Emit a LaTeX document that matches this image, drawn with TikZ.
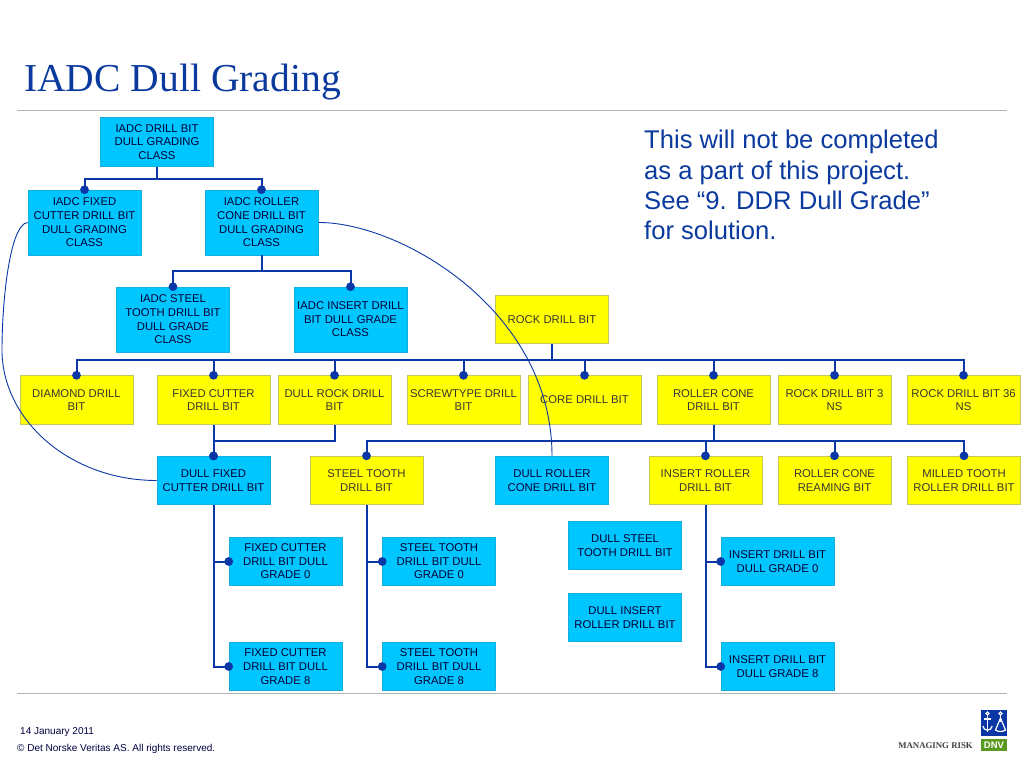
\documentclass[tikz,border=0pt]{standalone}
\usepackage{fontspec}
\setmainfont{Liberation Sans}
\newfontfamily\serifface{Liberation Serif}
\usetikzlibrary{arrows.meta}
\definecolor{boxblue}{HTML}{00C6FF}
\definecolor{boxyellow}{HTML}{FFFF00}
\definecolor{edgeblue}{HTML}{14AEE2}
\definecolor{edgeyellow}{HTML}{C6C65E}
\definecolor{linkblue}{HTML}{0A37A5}
\definecolor{headblue}{HTML}{0B3A9E}
\definecolor{rulegrey}{HTML}{B4B4B4}
\definecolor{logogreen}{HTML}{5B9A20}
\tikzset{
  card/.style={minimum width=113pt,minimum height=48.5pt,inner sep=0pt,align=center,
    font=\fontsize{11.3}{13.6}\selectfont},
  bluebox/.style={card,fill=boxblue,draw=edgeblue,line width=.6pt,text=black!80!blue},
  yellowbox/.style={card,fill=boxyellow,draw=edgeyellow,line width=.9pt,text=black!90!yellow},
  tall/.style={minimum height=65pt},
  link/.style={draw=linkblue,line width=2pt},
  tree/.style={link,-{Circle[length=8.6pt,width=8.6pt]},shorten >=-4.3pt},
  curvelink/.style={draw=linkblue,line width=.9pt},
  anchorline/.style={white,line width=1.2pt}
}
\begin{document}
\begin{tikzpicture}[x=1pt,y=-1pt]
  \useasboundingbox (0,0) rectangle (1024,768);
  \draw[rulegrey,line width=.9pt] (17,110.5) -- (1007,110.5);
  \draw[rulegrey,line width=.9pt] (17,693.5) -- (1007,693.5);
  \node[anchor=base west,inner sep=0pt,text=headblue,font=\serifface\fontsize{39.6}{44}\selectfont] (title) at (24,91) {IADC Dull Grading};
  \node[anchor=north west,inner sep=0pt,align=left,text=headblue,font=\fontsize{25.6}{30.4}\selectfont] (note) at (644,130)
    {This will not be completed\\as a part of this project.\\See “9. DDR Dull Grade”\\for solution.};
  \draw
    (157,142) node[bluebox] (classroot){IADC DRILL BIT\\DULL GRADING\\CLASS}
    (84.5,222.5) node[bluebox,tall] (classfixed){IADC FIXED\\CUTTER DRILL BIT\\DULL GRADING\\CLASS}
    (261.5,222.5) node[bluebox,tall] (classroller){IADC ROLLER\\CONE DRILL BIT\\DULL GRADING\\CLASS}
    (173,319.5) node[bluebox,tall] (classsteel){IADC STEEL\\TOOTH DRILL BIT\\DULL GRADE\\CLASS}
    (350.5,319.5) node[bluebox,tall] (classinsert){IADC INSERT DRILL\\BIT DULL GRADE\\CLASS}
    (552,319.5) node[yellowbox] (rock){ROCK DRILL BIT}
    (76.5,400) node[yellowbox] (diamond){DIAMOND DRILL\\BIT}
    (213.5,400) node[yellowbox] (fixed){FIXED CUTTER\\DRILL BIT}
    (334.5,400) node[yellowbox] (dullrock){DULL ROCK DRILL\\BIT}
    (463.5,400) node[yellowbox] (screw){SCREWTYPE DRILL\\BIT}
    (584.5,400) node[yellowbox] (core){CORE DRILL BIT}
    (713.5,400) node[yellowbox] (roller){ROLLER CONE\\DRILL BIT}
    (834.5,400) node[yellowbox] (rockthree){ROCK DRILL BIT 3\\NS}
    (963.5,400) node[yellowbox] (rockthirtysix){ROCK DRILL BIT 36\\NS}
    (213.5,480.5) node[bluebox] (dullfixed){DULL FIXED\\CUTTER DRILL BIT}
    (366.5,480.5) node[yellowbox] (steel){STEEL TOOTH\\DRILL BIT}
    (552,480.5) node[bluebox] (dullroller){DULL ROLLER\\CONE DRILL BIT}
    (705.5,480.5) node[yellowbox] (insert){INSERT ROLLER\\DRILL BIT}
    (834.5,480.5) node[yellowbox] (reaming){ROLLER CONE\\REAMING BIT}
    (964,480.5) node[yellowbox] (milled){MILLED TOOTH\\ROLLER DRILL BIT}
    (285.5,561.5) node[bluebox] (fixedzero){FIXED CUTTER\\DRILL BIT DULL\\GRADE 0}
    (285.5,666.5) node[bluebox] (fixedeight){FIXED CUTTER\\DRILL BIT DULL\\GRADE 8}
    (439,561.5) node[bluebox] (steelzero){STEEL TOOTH\\DRILL BIT DULL\\GRADE 0}
    (439,666.5) node[bluebox] (steeleight){STEEL TOOTH\\DRILL BIT DULL\\GRADE 8}
    (625,545.5) node[bluebox] (dullsteel){DULL STEEL\\TOOTH DRILL BIT}
    (625,617.5) node[bluebox] (dullinsert){DULL INSERT\\ROLLER DRILL BIT}
    (777.5,561.5) node[bluebox] (insertzero){INSERT DRILL BIT\\DULL  GRADE 0}
    (777.5,666.5) node[bluebox] (inserteight){INSERT DRILL BIT\\DULL  GRADE 8};
  \begin{scope}[tree]
    \draw (classroot.south) -- ++(0,12) -| (classfixed.north);
    \draw (classroot.south) -- ++(0,12) -| (classroller.north);
    \draw (classroller.south) -- ++(0,16) -| (classsteel.north);
    \draw (classroller.south) -- ++(0,16) -| (classinsert.north);
    \draw (rock.south) -- ++(0,16) -| (diamond.north);
    \draw (rock.south) -- ++(0,16) -| (fixed.north);
    \draw (rock.south) -- ++(0,16) -| (dullrock.north);
    \draw (rock.south) -- ++(0,16) -| (screw.north);
    \draw (rock.south) -- ++(0,16) -| (core.north);
    \draw (rock.south) -- ++(0,16) -| (roller.north);
    \draw (rock.south) -- ++(0,16) -| (rockthree.north);
    \draw (rock.south) -- ++(0,16) -| (rockthirtysix.north);
    \draw (fixed.south) -- (dullfixed.north);
    \draw (dullrock.south) -- ++(0,16) -| (dullfixed.north);
    \draw (roller.south) -- ++(0,16) -| (steel.north);
    \draw (roller.south) -- ++(0,16) -| (insert.north);
    \draw (roller.south) -- ++(0,16) -| (reaming.north);
    \draw (roller.south) -- ++(0,16) -| (milled.north);
    \draw (dullfixed.south) |- (fixedzero.west);
    \draw (dullfixed.south) |- (fixedeight.west);
    \draw (steel.south) |- (steelzero.west);
    \draw (steel.south) |- (steeleight.west);
    \draw (insert.south) |- (insertzero.west);
    \draw (insert.south) |- (inserteight.west);
  \end{scope}
  \draw[curvelink] (classfixed.west) .. controls (10,224) and (2,300) .. (2,350) .. controls (2,420) and (70,480.5) .. (dullfixed.west);
  \draw[curvelink] (classroller.east) .. controls (400,222) and (552,310) .. (dullroller.north);
  % footer
  \node[anchor=base west,inner sep=0pt,text=black!75!blue,font=\fontsize{10}{12}\selectfont] (date) at (20,734) {14 January 2011};
  \node[anchor=base west,inner sep=0pt,text=black!75!blue,font=\fontsize{10}{12}\selectfont] (rights) at (17,751) {© Det Norske Veritas AS. All rights reserved.};
  \node[anchor=base east,inner sep=0pt,text=black!75,font=\serifface\bfseries\fontsize{8.8}{10}\selectfont] (motto) at (973,748) {MANAGING RISK};
  \fill[linkblue] (981,710) rectangle (1007,736);
  \fill[logogreen] (981,739) rectangle (1007,751);
  \node[inner sep=0pt,text=white,font=\bfseries\fontsize{9.5}{10}\selectfont] (dnv) at (994,745) {DNV};
  % left anchor
  \draw[anchorline] (987.5,713.5) circle (1.6);
  \draw[anchorline] (987.5,715) -- (987.5,732);
  \draw[anchorline] (984,719) -- (991,719);
  \draw[anchorline] (982.8,726) .. controls (983.5,731.5) and (991.5,731.5) .. (992.2,726);
  % right anchor
  \draw[anchorline] (1000.5,713.5) circle (1.6);
  \draw[anchorline] (1000.5,715) -- (1000.5,722);
  \draw[anchorline] (1000.5,718) -- (995.5,730) .. controls (998,732) and (1003,732) .. (1005.5,730) -- cycle;
\end{tikzpicture}
\end{document}
